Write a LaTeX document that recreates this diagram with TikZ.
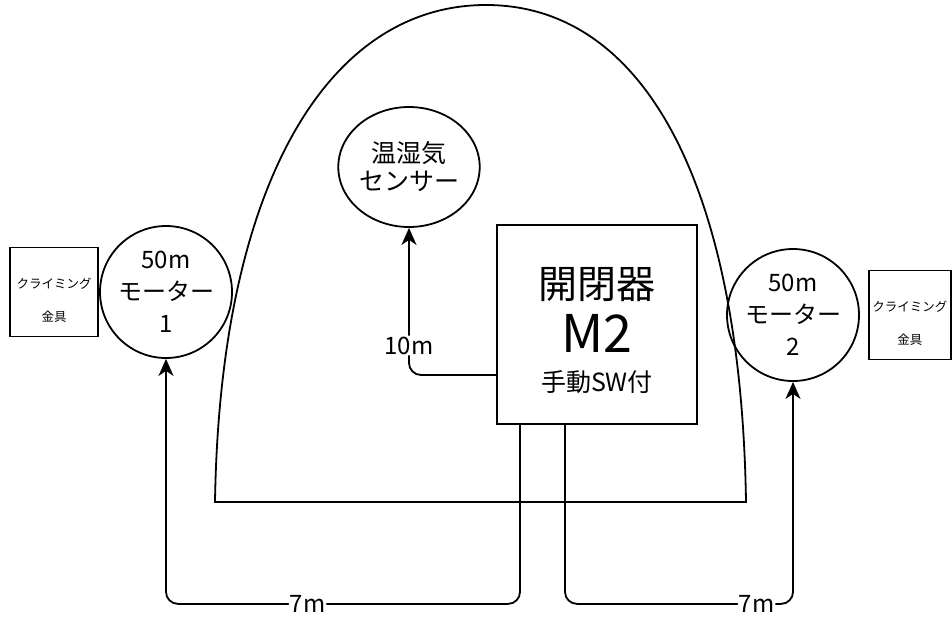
\documentclass[tikz,border=0pt]{standalone}
\usepackage{fontspec}
\setmainfont{Noto Sans CJK JP}
\usetikzlibrary{positioning,arrows.meta,shapes.geometric}

\begin{document}
\begin{tikzpicture}[x=1pt,y=-1pt,line width=1.8pt,
  wire/.style={rounded corners=12pt},
  feed/.style={wire,-{Stealth[length=17pt,width=15pt,inset=5pt]}},
  motor/.style={circle,draw,minimum size=132pt,inner sep=0pt,align=center,font=\fontsize{24}{32}\selectfont},
  clamp/.style={draw,minimum height=89pt,inner sep=0pt,
    label={[yshift=-8pt,align=center,font=\fontsize{12.5}{33}\selectfont]center:#1}},
  dist/.style={fill=white,inner sep=1pt,font=\fontsize{24}{24}\selectfont}]
\useasboundingbox (0,0) rectangle (952,616);

\draw (215,502) .. controls (220,180) and (330,5) .. (486,5)
  .. controls (642,5) and (741,180) .. (746,502) -- cycle;

\node[motor] (motor1) at (166,292) {50m\\モーター\\1};
\node[motor] (motor2) at (793,315) {50m\\モーター\\2};
\node[clamp={クライミング\\金具},minimum width=88pt,left=0pt of motor1] (clamp1) {};
\node[clamp={クライミング\\金具},minimum width=82pt,right=8pt of motor2] (clamp2) {};
\node[draw,ellipse,minimum width=134pt,minimum height=120pt,inner sep=0pt,align=center,
  font=\fontsize{25}{28}\selectfont] (sensor) at (409,167) {温湿気\\センサー};
\node[draw,minimum width=200pt,minimum height=199pt,
  label={[yshift=39.5pt,font=\fontsize{39}{39}\selectfont]center:開閉器},
  label={[yshift=-8.5pt,font=\fontsize{52}{52}\selectfont]center:M2},
  label={[yshift=-57.5pt,font=\fontsize{25}{25}\selectfont]center:手動SW付}]
  (sw) at (597,324.5) {};

\draw[feed] ([yshift=-50.5pt]sw.west) -| node[dist,pos=0.6] {10m} (sensor.south);
\draw[feed] ([xshift=-77pt]sw.south) -- ++(0,179) -| node[dist,pos=0.3] {7m} (motor1.south);
\draw[feed] ([xshift=-32pt]sw.south) -- ++(0,179) -| node[dist,pos=0.42] {7m} (motor2.south);
\end{tikzpicture}
\end{document}
